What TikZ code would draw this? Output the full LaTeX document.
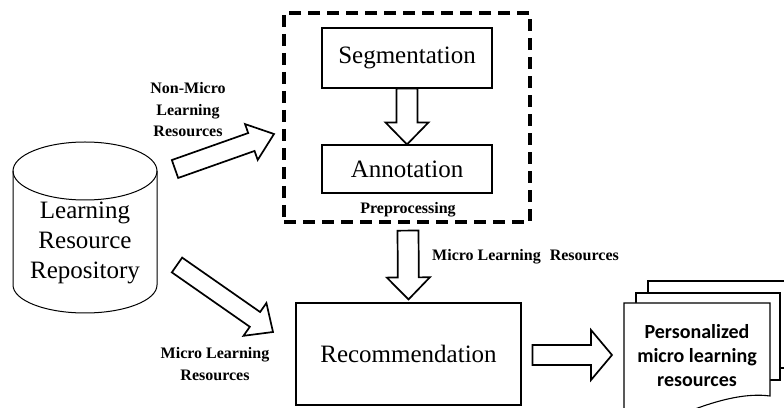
\documentclass[tikz,border=0pt]{standalone}
\usepackage{fontspec}
\setmainfont{Liberation Serif}
\newfontfamily\calibfont{Carlito}
\usetikzlibrary{calc}

% hollow block arrow: #1 tail, #2 tip, #3 shaft half width, #4 head half width, #5 head length
\newcommand\hollowarrow[5]{%
  \coordinate (hb) at ($(#2)!#5!(#1)$);
  \draw[hollowstyle] ($(#1)!#3!90:(#2)$) -- ($(hb)!#3!90:(#2)$) -- ($(hb)!#4!90:(#2)$)
    -- (#2) -- ($(hb)!#4!-90:(#2)$) -- ($(hb)!#3!-90:(#2)$) -- ($(#1)!#3!-90:(#2)$) -- cycle;
}

\begin{document}
\begin{tikzpicture}[x=1pt,y=1pt,
  box/.style={draw, line width=1.1pt, inner sep=0pt, font=\fontsize{25}{30}\selectfont},
  lbl/.style={font=\bfseries\fontsize{16}{21.5}\selectfont, align=center, inner sep=0pt},
  hollowstyle/.style={draw, fill=white, line width=1.7pt, line join=miter},
  sheet/.style={draw, fill=white, line width=1.1pt}]
\useasboundingbox (0,0) rectangle (784,407);

% preprocessing stage
\node[draw, dash pattern=on 12pt off 7pt, line width=3.2pt, minimum width=246pt,
      minimum height=209pt, inner sep=0pt] (pre) at (407,289.5) {};
\node[box, minimum width=170pt, minimum height=60pt] (seg) at (407,349) {Segmentation};
\node[box, minimum width=170pt, minimum height=48pt] (ann) at (407,238) {Annotation};
\node[lbl] (prelbl) at (408,197) {Preprocessing};
\hollowarrow{seg.south}{ann.north}{10.5pt}{21.5pt}{22pt}

% recommendation stage
\node[box, minimum width=225pt, minimum height=102pt] (rec) at (408.5,53) {Recommendation};
\coordinate (preout) at ($(pre.south)+(1,-7)$);
\coordinate (recin) at ($(rec.north)+(0,3)$);
\hollowarrow{preout}{recin}{10.5pt}{21.5pt}{22pt}
\node[lbl, anchor=west] (mlbl2) at (432,150) {Micro Learning\hspace{5pt} Resources};

% repository cylinder
\draw[line width=1pt, fill=white] (13,236) -- (13,122)
  arc[start angle=180, end angle=360, x radius=72, y radius=28] -- (157,236);
\draw[line width=1pt] (85,236) ellipse[x radius=72, y radius=29];
\node[font=\fontsize{25}{30}\selectfont, align=center, inner sep=0pt] (repo) at (85,164)
  {Learning\\Resource\\Repository};

% flows out of the repository
\coordinate (nmA) at (175,238);
\coordinate (nmB) at (274,273);
\hollowarrow{nmA}{nmB}{9.5pt}{19pt}{24pt}
\node[lbl] (nmlbl) at (188,297) {Non-Micro\\Learning\\Resources};

\coordinate (mA) at (177,142);
\coordinate (mB) at (273,75);
\hollowarrow{mA}{mB}{9pt}{20pt}{22pt}
\node[lbl] (mlbl) at (215,43) {Micro Learning\\Resources};

% output documents
\begin{scope}
  \clip (0,0) rectangle (784,407);
  \draw[sheet] (648,39) -- (648,126) -- (800,126) -- (800,39) -- cycle;
  \draw[sheet] (636,27) -- (636,114) -- (780,114) -- (780,27) -- cycle;
  \draw[sheet] (624,-20) -- (624,104) -- (770,104) -- (770,11)
    .. controls (748,14) and (722,8) .. (695,-2) -- (680,-20) -- cycle;
\end{scope}
\coordinate (front) at (624,52);
\node[font=\calibfont\bfseries\fontsize{20}{24}\selectfont, align=center, inner sep=0pt] (doc)
  at (697,51) {Personalized\\micro learning\\resources};

\coordinate (recout) at ($(rec.east)+(11,-1)$);
\coordinate (docin) at ($(front)+(-12,0)$);
\hollowarrow{recout}{docin}{10pt}{25pt}{21pt}
\end{tikzpicture}
\end{document}
